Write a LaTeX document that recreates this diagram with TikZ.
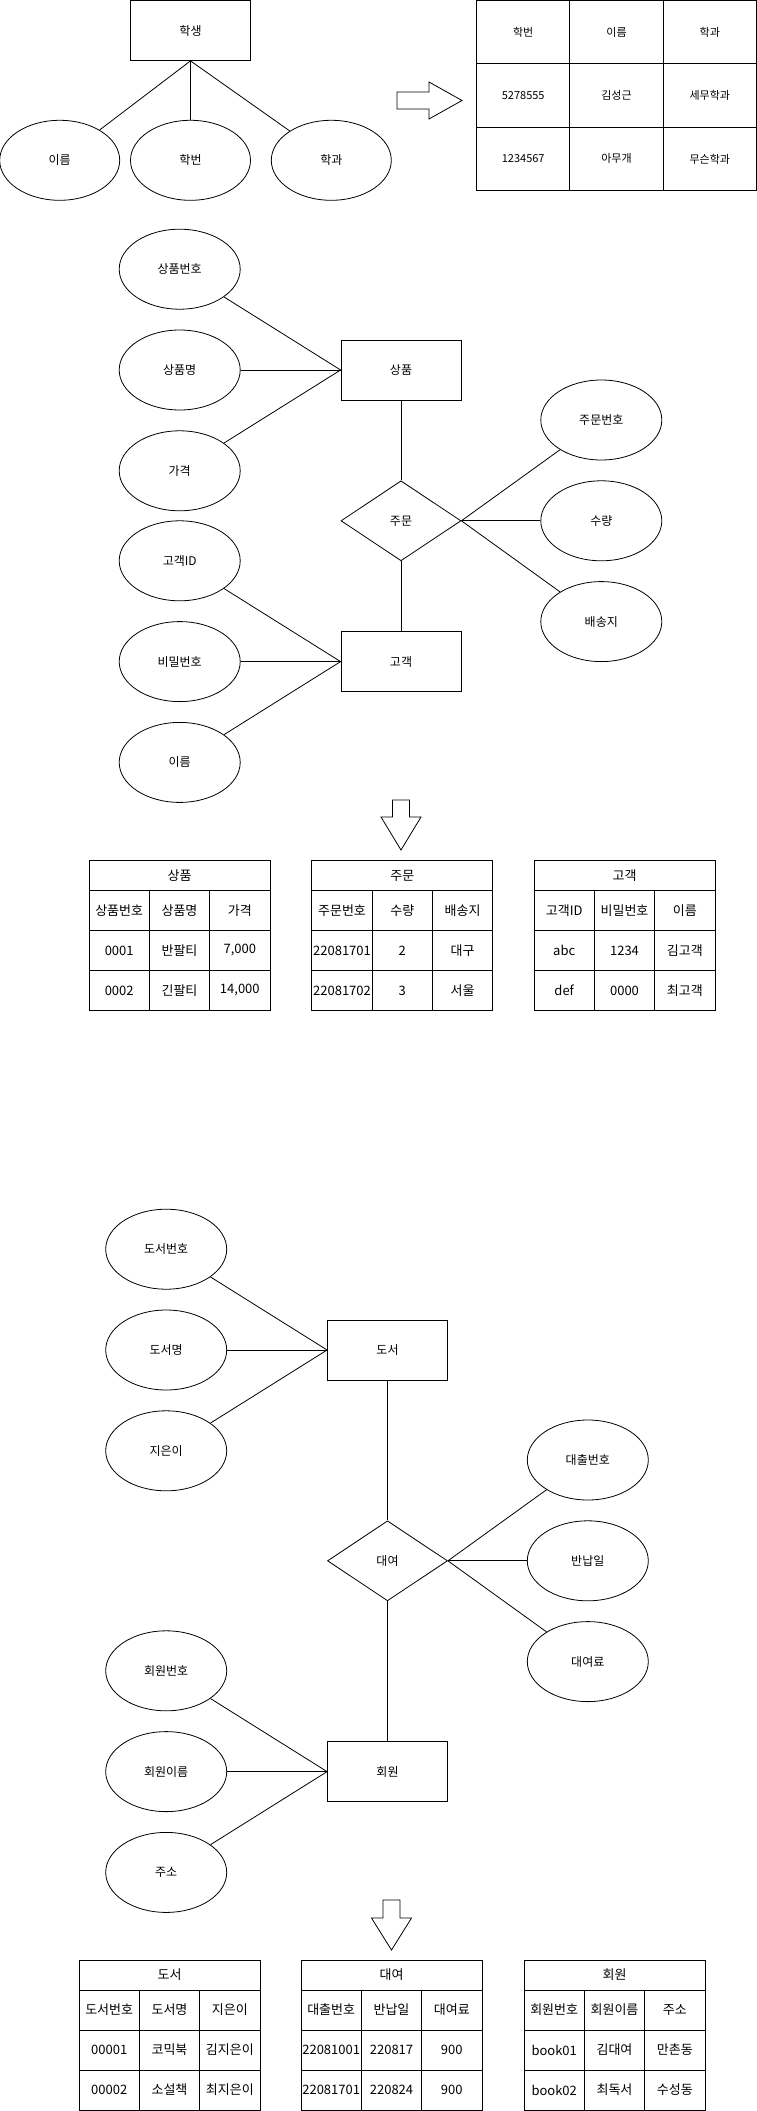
\documentclass[tikz,border=0pt]{standalone}
\usepackage{fontspec}
\setmainfont{Noto Sans CJK KR}
\usetikzlibrary{positioning,shapes.geometric}
\tikzset{
  entity/.style   = {draw, line width=0.8pt, minimum width=120pt, minimum height=60pt,
                     inner sep=0pt, font=\fontsize{12}{14}\selectfont},
  attr/.style     = {draw, ellipse, line width=0.8pt, minimum width=121pt, minimum height=80pt,
                     inner sep=0pt, font=\fontsize{12}{14}\selectfont},
  rel/.style      = {draw, diamond, line width=0.8pt, minimum width=120pt, minimum height=80pt,
                     inner sep=0pt, font=\fontsize{12}{14}\selectfont},
  link/.style     = {line width=0.8pt},
  bigcell/.style  = {draw, line width=0.8pt, minimum width=93.33pt, minimum height=63.33pt,
                     inner sep=0pt, outer sep=0pt, font=\fontsize{11}{13}\selectfont},
  cell/.style     = {draw, line width=0.8pt, minimum width=60.33pt, minimum height=40pt,
                     inner sep=0pt, outer sep=0pt, font=\fontsize{13}{15}\selectfont},
  headcell/.style = {cell, minimum width=181pt, minimum height=30pt},
  block/.style    = {draw, line width=0.8pt, fill=white, line join=miter},
}
\begin{document}
\begin{tikzpicture}[x=1pt, y=1pt]
\useasboundingbox (0,0) rectangle (757,-2111);
\node[entity] (student) at (190.5,-30.5) {학생};
\node[attr, minimum width=120pt, below=59pt of student] (sno) {학번};
\node[attr, minimum width=120pt, left=10pt of sno] (sname) {이름};
\node[attr, minimum width=120pt, right=20pt of sno] (sdept) {학과};
\draw[link] (student.south) -- (sname);
\draw[link] (student.south) -- (sno);
\draw[link] (student.south) -- (sdept);
\draw[block] (397,-92) -- (429,-92) -- (429,-82) -- (462,-100.5) -- (429,-119) -- (429,-109) -- (397,-109) -- cycle;
\foreach \r/\a/\b/\c in {0/학번/이름/학과, 1/5278555/김성근/세무학과, 2/1234567/아무개/무슨학과} {
  \node[bigcell] (st-\r-1) at (523.2,-32.2-63.33*\r) {\a};
  \node[bigcell] (st-\r-2) at (616.5,-32.2-63.33*\r) {\b};
  \node[bigcell] (st-\r-3) at (709.8,-32.2-63.33*\r) {\c};
}

\node[entity] (prod) at (401,-370) {상품};
\node[attr, left=100pt of prod] (pname) {상품명};
\node[attr, above=20pt of pname] (pno) {상품번호};
\node[attr, below=20pt of pname] (price) {가격};
\node[rel, below=80pt of prod] (order) {주문};
\node[attr, right=79pt of order] (qty) {수량};
\node[attr, above=20pt of qty] (ono) {주문번호};
\node[attr, below=20pt of qty] (addr) {배송지};
\node[entity, below=70pt of order] (cust) {고객};
\node[attr, left=100pt of cust] (cpw) {비밀번호};
\node[attr, above=20pt of cpw] (cid) {고객ID};
\node[attr, below=20pt of cpw] (cname) {이름};
\draw[link] (prod.west) -- (pno);
\draw[link] (prod.west) -- (pname);
\draw[link] (prod.west) -- (price);
\draw[link] (prod) -- (order);
\draw[link] (order) -- (cust);
\draw[link] (order.east) -- (ono);
\draw[link] (order.east) -- (qty);
\draw[link] (order.east) -- (addr);
\draw[link] (cust.west) -- (cid);
\draw[link] (cust.west) -- (cpw);
\draw[link] (cust.west) -- (cname);
\draw[block] (392.5,-800) -- (409.5,-800) -- (409.5,-817) -- (421,-817) -- (401,-850) -- (381,-817) -- (392.5,-817) -- cycle;

\node[headcell] (prodT) at (179.5,-875.5) {상품};
\foreach \r/\a/\b/\c in {1/상품번호/상품명/가격, 2/0001/반팔티/{7,000}, 3/0002/긴팔티/{14,000}} {
  \node[cell] (prodT-\r-1) at (119.2,-870.5-40*\r) {\a};
  \node[cell] (prodT-\r-2) at (179.5,-870.5-40*\r) {\b};
  \node[cell] (prodT-\r-3) at (239.8,-870.5-40*\r) {\c};
}
\node[headcell] (ordT) at (402.3,-875.5) {주문};
\foreach \r/\a/\b/\c in {1/주문번호/수량/배송지, 2/22081701/2/대구, 3/22081702/3/서울} {
  \node[cell] (ordT-\r-1) at (342,-870.5-40*\r) {\a};
  \node[cell] (ordT-\r-2) at (402.3,-870.5-40*\r) {\b};
  \node[cell] (ordT-\r-3) at (462.6,-870.5-40*\r) {\c};
}
\node[headcell] (custT) at (624.5,-875.5) {고객};
\foreach \r/\a/\b/\c in {1/고객ID/비밀번호/이름, 2/abc/1234/김고객, 3/def/0000/최고객} {
  \node[cell] (custT-\r-1) at (564.2,-870.5-40*\r) {\a};
  \node[cell] (custT-\r-2) at (624.5,-870.5-40*\r) {\b};
  \node[cell] (custT-\r-3) at (684.8,-870.5-40*\r) {\c};
}

\node[entity] (book) at (387.5,-1350) {도서};
\node[attr, left=100pt of book] (bname) {도서명};
\node[attr, above=20pt of bname] (bno) {도서번호};
\node[attr, below=20pt of bname] (bauth) {지은이};
\node[rel, below=140pt of book] (rent) {대여};
\node[attr, right=79pt of rent] (rdue) {반납일};
\node[attr, above=20pt of rdue] (rno) {대출번호};
\node[attr, below=20pt of rdue] (rfee) {대여료};
\node[entity, below=140pt of rent] (member) {회원};
\node[attr, left=100pt of member] (mname) {회원이름};
\node[attr, above=20pt of mname] (mno) {회원번호};
\node[attr, below=20pt of mname] (maddr) {주소};
\draw[link] (book.west) -- (bno);
\draw[link] (book.west) -- (bname);
\draw[link] (book.west) -- (bauth);
\draw[link] (book) -- (rent);
\draw[link] (rent) -- (member);
\draw[link] (rent.east) -- (rno);
\draw[link] (rent.east) -- (rdue);
\draw[link] (rent.east) -- (rfee);
\draw[link] (member.west) -- (mno);
\draw[link] (member.west) -- (mname);
\draw[link] (member.west) -- (maddr);
\draw[block] (383,-1900) -- (400,-1900) -- (400,-1918) -- (411.5,-1918) -- (391.5,-1950) -- (371.5,-1918) -- (383,-1918) -- cycle;

\node[headcell] (bookT) at (169.5,-1975) {도서};
\foreach \r/\a/\b/\c in {1/도서번호/도서명/지은이, 2/00001/코믹북/김지은이, 3/00002/소설책/최지은이} {
  \node[cell] (bookT-\r-1) at (109.2,-1970-40*\r) {\a};
  \node[cell] (bookT-\r-2) at (169.5,-1970-40*\r) {\b};
  \node[cell] (bookT-\r-3) at (229.8,-1970-40*\r) {\c};
}
\node[headcell] (rentT) at (391.5,-1975) {대여};
\foreach \r/\a/\b/\c in {1/대출번호/반납일/대여료, 2/22081001/220817/900, 3/22081701/220824/900} {
  \node[cell] (rentT-\r-1) at (331.2,-1970-40*\r) {\a};
  \node[cell] (rentT-\r-2) at (391.5,-1970-40*\r) {\b};
  \node[cell] (rentT-\r-3) at (451.8,-1970-40*\r) {\c};
}
\node[headcell] (memT) at (614.5,-1975) {회원};
\foreach \r/\a/\b/\c in {1/회원번호/회원이름/주소, 2/book01/김대여/만촌동, 3/book02/최독서/수성동} {
  \node[cell] (memT-\r-1) at (554.2,-1970-40*\r) {\a};
  \node[cell] (memT-\r-2) at (614.5,-1970-40*\r) {\b};
  \node[cell] (memT-\r-3) at (674.8,-1970-40*\r) {\c};
}
\end{tikzpicture}
\end{document}
